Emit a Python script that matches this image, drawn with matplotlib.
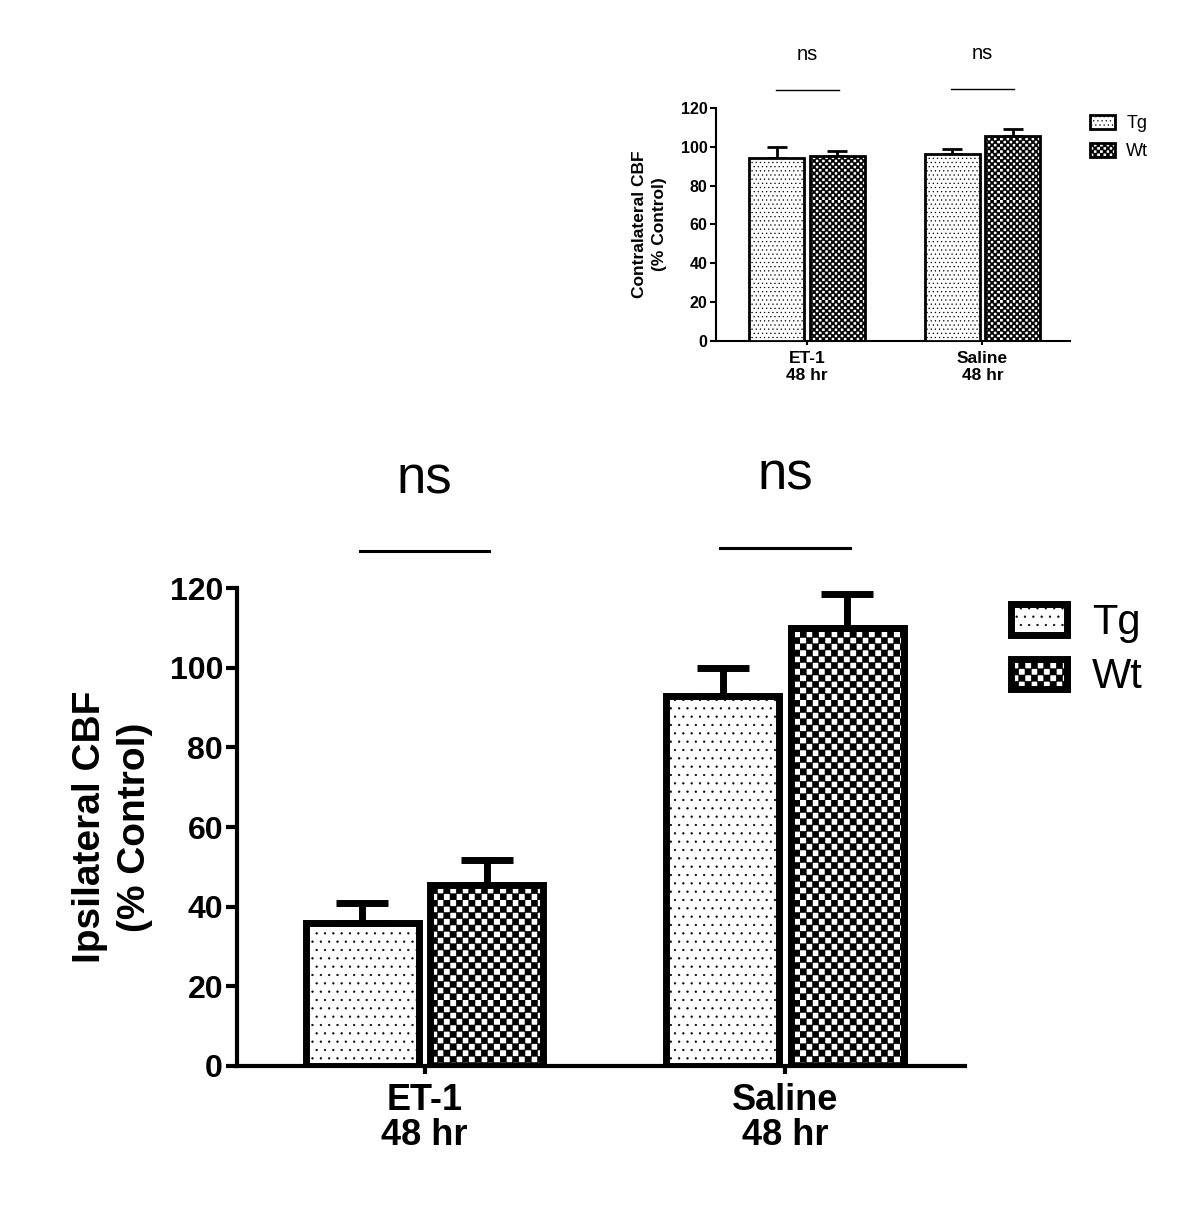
import numpy as np
import matplotlib
matplotlib.use("Agg")
import matplotlib.pyplot as plt
from matplotlib import hatch as mhatch
from matplotlib.path import Path

plt.rcParams['font.family'] = ['Liberation Sans', 'DejaVu Sans']
plt.rcParams['hatch.linewidth'] = 0.4
plt.rcParams['hatch.color'] = 'black'


# checkerboard hatch, hooked onto the '*' character (stars are not used here)
class CheckerHatch(mhatch.HatchPatternBase):
    def __init__(self, hatch, density):
        self.n = 4 * hatch.count('*')
        self.num_vertices = (self.n * self.n // 2) * 5

    def set_vertices_and_codes(self, vertices, codes):
        s = 1.0 / self.n
        k = 0
        for i in range(self.n):
            for j in range(self.n):
                if (i + j) % 2:
                    continue
                x0, y0 = j * s, i * s
                vertices[k:k + 5] = [[x0, y0], [x0 + s, y0], [x0 + s, y0 + s],
                                     [x0, y0 + s], [x0, y0]]
                codes[k:k + 5] = [Path.MOVETO, Path.LINETO, Path.LINETO,
                                  Path.LINETO, Path.CLOSEPOLY]
                k += 5


mhatch._hatch_types = [t for t in mhatch._hatch_types if t is not mhatch.Stars] + [CheckerHatch]

# data
categories = ['ET-1\n48 hr', 'Saline\n48 hr']
groups = ['Tg', 'Wt']

ipsi_tg = [36, 93]
ipsi_tg_err = [5, 7]
ipsi_wt = [45.5, 110]
ipsi_wt_err = [6.3, 8.5]

contra_tg = [94.2, 96.3]
contra_tg_err = [5.7, 2.6]
contra_wt = [95.3, 105.6]
contra_wt_err = [2.5, 3.6]

sig_labels = ['ns', 'ns']
sig_line_y = [129.3, 130]
sig_text_y = [147.3, 148.3]


def draw_panel(ax, tg, tg_err, wt, wt_err, s):
    x = np.arange(len(categories))
    w = 0.313
    off = 0.173
    b1 = ax.bar(x - off, tg, w, color='white', edgecolor='black',
                linewidth=s['bar_lw'], hatch=s['dots'], label=groups[0], zorder=3)
    b2 = ax.bar(x + off, wt, w, color='white', edgecolor='black',
                linewidth=s['bar_lw'], hatch=s['checker'], label=groups[1], zorder=3)
    ax.errorbar(x - off, tg, yerr=[np.zeros(len(tg)), tg_err], fmt='none',
                ecolor='black', elinewidth=s['bar_lw'], capsize=s['cap'],
                capthick=s['bar_lw'], zorder=2)
    ax.errorbar(x + off, wt, yerr=[np.zeros(len(wt)), wt_err], fmt='none',
                ecolor='black', elinewidth=s['bar_lw'], capsize=s['cap'],
                capthick=s['bar_lw'], zorder=2)

    for i in range(len(categories)):
        ax.plot([x[i] - 0.18, x[i] + 0.18], [sig_line_y[i], sig_line_y[i]],
                color='black', lw=s['sig_lw'], clip_on=False)
        ax.text(x[i], sig_text_y[i], sig_labels[i], ha='center', va='center',
                fontsize=s['ns_fs'])

    ax.set_xlim(-0.52, 1.5)
    ax.set_ylim(0, 120)
    ax.set_yticks(np.arange(0, 121, 20))
    ax.set_xticks(x)
    ax.set_xticklabels(categories, fontweight='bold', fontsize=s['xlab_fs'],
                       linespacing=s['xlab_ls'])
    for lab in ax.get_yticklabels():
        lab.set_fontweight('bold')
        lab.set_fontsize(s['tick_fs'])
    ax.spines['top'].set_visible(False)
    ax.spines['right'].set_visible(False)
    ax.spines['left'].set_linewidth(s['spine_lw'])
    ax.spines['bottom'].set_linewidth(s['spine_lw'])
    ax.tick_params(axis='y', width=s['spine_lw'], length=s['tick_len'], pad=2)
    ax.tick_params(axis='x', width=s['spine_lw'], length=s['tick_len'] * 0.7,
                   pad=s['xpad'])
    return b1, b2


fig = plt.figure(figsize=(12, 12.16), dpi=100)

# small contralateral panel
ax1 = fig.add_axes([0.5967, 0.7196, 0.295, 0.1916])
small = dict(bar_lw=2, cap=7, sig_lw=1, ns_fs=14.5, tick_fs=11.5, xlab_fs=12.5,
             xlab_ls=1.15, spine_lw=1.5, tick_len=4, xpad=4.5,
             dots='....', checker='********')
h1 = draw_panel(ax1, contra_tg, contra_tg_err, contra_wt, contra_wt_err, small)
ax1.set_ylabel('Contralateral CBF\n(% Control)', fontweight='bold',
               fontsize=12.5, linespacing=1.45, labelpad=10)
fig.legend(handles=h1, loc='upper left', bbox_to_anchor=(1081 / 1200, 1 - 106 / 1216),
           frameon=False, fontsize=13, handlelength=1.4, handleheight=0.8,
           handletextpad=0.6, labelspacing=0.6, borderpad=0)

# large ipsilateral panel
ax2 = fig.add_axes([0.1975, 0.1234, 0.607, 0.393])
big = dict(bar_lw=5, cap=19, sig_lw=2.2, ns_fs=38, tick_fs=23, xlab_fs=26,
           xlab_ls=1.0, spine_lw=3, tick_len=8, xpad=7,
           dots='..', checker='****')
h2 = draw_panel(ax2, ipsi_tg, ipsi_tg_err, ipsi_wt, ipsi_wt_err, big)
ax2.set_ylabel('Ipsilateral CBF\n(% Control)', fontweight='bold',
               fontsize=28, linespacing=1.33, labelpad=12)
fig.legend(handles=h2, loc='upper left', bbox_to_anchor=(990 / 1200, 1 - 582 / 1216),
           frameon=False, fontsize=30, handlelength=1.35, handleheight=0.75,
           handletextpad=0.6, labelspacing=0.35, borderpad=0)

fig.savefig('out.png', dpi=100, facecolor='white')
